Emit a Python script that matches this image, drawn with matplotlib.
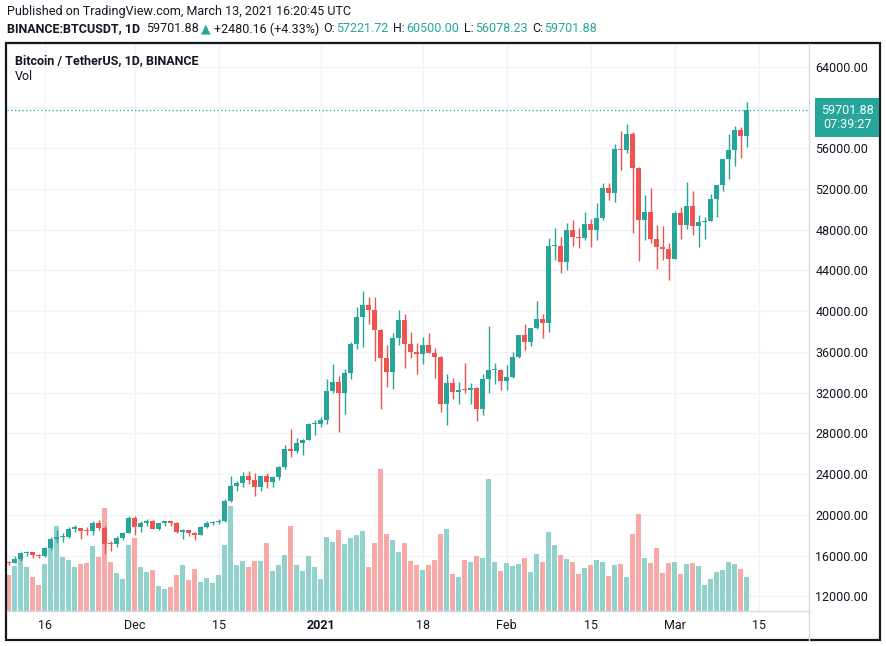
import numpy as np
import pandas as pd
import matplotlib
matplotlib.use("Agg")
import matplotlib.pyplot as plt
import matplotlib.dates as mdates
import matplotlib.transforms as mtransforms
from matplotlib.patches import Rectangle
from matplotlib.lines import Line2D

plt.rcParams['font.family'] = ['Roboto', 'DejaVu Sans']

UP = "#26a69a"
DOWN = "#ef5350"
UP_VOL = "#92d2cc"
DOWN_VOL = "#f7a9a7"
TEXT = "#131722"
GRID = "#f0f3fa"
EDGE = "#d6d9e0"

# --- data: BINANCE:BTCUSDT daily, 2020-11-10 .. 2021-03-13 ---
dates = pd.date_range("2020-11-10", "2021-03-13", freq="D")
first_open = 15332.0

closes = [
    # Nov
    15290, 15701, 16276, 16317, 16068, 15957, 16713, 17659, 17777, 17802,
    18655, 18703, 18414, 18364, 19160, 18720, 17151, 17139, 17720, 18180, 19696,
    # Dec
    18765, 19204, 19422, 18650, 19147, 19359, 19166, 18324, 18541, 18254,
    18036, 18808, 19175, 19273, 19427, 21380, 22808, 23107, 23821, 23455,
    22720, 23810, 23232, 23729, 24712, 26493, 26281, 27079, 27385, 28875, 28923,
    # Jan
    29331, 32178, 33000, 31988, 33949, 36769, 39432, 40582, 40088, 38150,
    35404, 34051, 37371, 39144, 36742, 35994, 35828, 36631, 35891, 35468,
    30850, 32950, 32079, 32260, 32254, 32467, 30366, 33364, 34252, 34262, 33092,
    # Feb
    33526, 35466, 37618, 36937, 38290, 39186, 38795, 46375, 46420, 44807,
    47969, 47288, 47153, 48577, 47911, 49133, 52119, 51553, 55906, 55841,
    57408, 54087, 48891, 49676, 47073, 46276, 46106, 45135,
    # Mar
    49587, 48440, 50349, 48374, 48751, 48882, 50971, 52376, 54884, 55851,
    57773, 57221.72, 59701.88,
]

highs = [
    15460, 15965, 16340, 16480, 16317, 16180, 16880, 17858, 18476, 18179,
    18815, 18965, 18750, 18766, 19418, 19484, 18915, 17457, 17880, 18345, 19863,
    19888, 19343, 19598, 19527, 19177, 19420, 19420, 19294, 18639, 18557,
    18292, 18948, 19411, 19349, 19570, 21560, 23800, 23285, 24171, 24295,
    24102, 23837, 24100, 23794, 24789, 26867, 28422, 27500, 27410, 28996, 29300,
    29600, 33300, 34778, 33600, 34360, 36939, 40365, 41950, 41380, 41350,
    38264, 36628, 37850, 40100, 39747, 37950, 36852, 37406, 37850, 36415,
    35600, 33826, 33456, 33071, 34875, 32921, 32557, 33783, 38531, 34933, 34288,
    34717, 35984, 37662, 38708, 38310, 40955, 39700, 47200, 48200, 47310,
    48678, 48985, 48150, 49707, 49010, 50600, 52618, 52530, 56368, 57700,
    58352, 57533, 54183, 51374, 52041, 48424, 48394, 46638,
    49790, 50200, 52640, 51773, 49448, 49200, 51450, 52402, 54895, 57387,
    58150, 58058, 60500.00,
]

lows = [
    15085, 15272, 15440, 15970, 15715, 15800, 15870, 16531, 17214, 17335,
    17740, 18308, 17610, 18000, 18019, 18535, 16188, 16438, 16886, 17517, 18180,
    18001, 18330, 18867, 18565, 18500, 18857, 18902, 18200, 17650, 17911,
    17572, 18020, 18711, 19000, 19050, 19288, 21230, 22350, 22750, 23060,
    21815, 22353, 22600, 22703, 23400, 24500, 25700, 26101, 25880, 27320, 27850,
    28624, 28946, 31962, 28130, 29900, 33288, 36300, 36500, 38720, 35111,
    30420, 32531, 32380, 36701, 34408, 35357, 33850, 34800, 35844, 33400,
    30071, 28850, 31390, 30900, 32000, 30837, 29241, 29842, 31915, 32825, 32270,
    32296, 33418, 35362, 36161, 36570, 38215, 37351, 37988, 45000, 43727,
    43994, 46400, 46202, 47015, 46250, 47003, 48947, 50901, 50672, 53863,
    55477, 47622, 44892, 47003, 46674, 44106, 45000, 43000,
    45115, 47047, 48100, 47500, 46300, 47070, 48882, 49274, 51789, 53005,
    54269, 55013, 56078.23,
]

# relative daily volume
volume = [
    36, 45, 53, 44, 34, 26, 47, 70, 85, 54, 51, 44, 47, 48, 65, 54, 103, 49, 38, 32, 66,
    73, 44, 39, 41, 25, 22, 24, 36, 46, 31, 42, 29, 33, 28, 36, 66, 105, 46, 50, 44,
    50, 50, 68, 40, 46, 56, 85, 46, 40, 55, 44,
    32, 74, 69, 81, 67, 73, 76, 80, 44, 68, 142, 77, 71, 59, 68, 50, 46, 41, 46, 51,
    77, 82, 37, 34, 51, 49, 55, 53, 132, 49, 40,
    48, 45, 47, 53, 39, 57, 49, 79, 66, 56, 52, 49, 37, 43, 46, 51, 49, 35, 46, 47,
    34, 77, 97, 53, 48, 63, 38, 48,
    49, 37, 47, 48, 45, 26, 32, 39, 41, 49, 47, 42, 34,
]

opens = [first_open] + closes[:-1]

grid_levels = list(range(12000, 64001, 4000))
price_labels = [p for p in grid_levels if p != 60000]  # hidden under price tag
time_ticks = ["2020-11-16", "2020-12-01", "2020-12-15", "2021-01-01", "2021-01-18",
              "2021-02-01", "2021-02-15", "2021-03-01", "2021-03-15"]
time_labels = ["16", "Dec", "15", "2021", "18", "Feb", "15", "Mar", "15"]

# --- figure / panes (pixel layout) ---
W, H = 886, 646
fig = plt.figure(figsize=(W / 100, H / 100), dpi=100)
L, R, T, B = 7, 809, 44, 611
ax_vol = fig.add_axes([L / W, 1 - B / H, (R - L) / W, (B - T) / H])
ax = ax_vol.twinx()
ax.set_zorder(ax_vol.get_zorder() + 1)
ax.patch.set_visible(False)

x = mdates.date2num(dates)
o = np.array(opens)
c = np.array(closes)
hi = np.array(highs)
lo = np.array(lows)
up = c >= o

ax_vol.set_xlim(x[0] - 0.28, x[0] + 133.4)
ax.set_ylim(10557, 66214)
ax_vol.set_ylim(0, max(volume) * 4.0)

# grid (behind volume)
gtrans = mtransforms.blended_transform_factory(ax_vol.transAxes, ax.transData)
for p in grid_levels:
    ax_vol.plot([0, 1], [p, p], transform=gtrans, color=GRID, lw=1, zorder=0)
tick_x = mdates.date2num(pd.to_datetime(time_ticks))
for t in tick_x:
    ax_vol.axvline(t, color=GRID, lw=1, zorder=0)

# volume
ax_vol.bar(x, volume, width=0.78, color=np.where(up, UP_VOL, DOWN_VOL), zorder=2)

# candles
cols = np.where(up, UP, DOWN)
ax.vlines(x, lo, hi, colors=cols, lw=1.0, zorder=3)
body_lo = np.minimum(o, c)
body_h = np.maximum(np.abs(c - o), 100)
ax.bar(x, body_h, bottom=body_lo, width=0.76, color=cols, zorder=4)

# last price line + tag
ax.axhline(closes[-1], color=UP, lw=0.9, ls=(0, (1, 2)), zorder=5)
tag_trans = mtransforms.blended_transform_factory(ax.transAxes, ax.transData)
ax.annotate(f"{closes[-1]:.2f}\n07:39:27", xy=(1, closes[-1]), xycoords=tag_trans,
            xytext=(27.5, 4.6), textcoords="offset points", ha="center", va="top",
            color="white", fontsize=9, linespacing=1.15, annotation_clip=False,
            bbox=dict(boxstyle="square,pad=0.45", fc=UP, ec="none"))

# axes cosmetics
for a in (ax, ax_vol):
    for s in a.spines.values():
        s.set_visible(False)
ax_vol.set_yticks([])
ax.set_yticks(price_labels)
ax.set_yticklabels([f"{p:.2f}" for p in price_labels])
ax.tick_params(axis="y", length=0, pad=4.5, labelsize=9, labelcolor=TEXT)
ax_vol.set_xticks(tick_x)
ax_vol.set_xticklabels(time_labels)
ax_vol.tick_params(axis="x", length=0, pad=6, labelsize=9, labelcolor=TEXT)
for lab in ax_vol.get_xticklabels():
    if lab.get_text() == "2021":
        lab.set_fontweight("bold")

# separators and outer frame
fig.add_artist(Line2D([R / W, R / W], [1 - 640 / H, 1 - T / H], color=EDGE, lw=1))
fig.add_artist(Line2D([L / W, R / W], [1 - B / H, 1 - B / H], color=EDGE, lw=1))
fig.add_artist(Rectangle((6 / W, 1 - 640 / H), (880 - 6) / W, (640 - 43) / H,
                         transform=fig.transFigure, fill=False, ec=TEXT, lw=1.6))

# pane legend
fig.text(15 / W, 1 - 61 / H, "Bitcoin / TetherUS, 1D, BINANCE", fontsize=9,
         color=TEXT, va="center", fontweight="bold")
fig.text(15 / W, 1 - 77 / H, "Vol", fontsize=9, color=TEXT, va="center")

# header lines
fig.text(7 / W, 1 - 12 / H, "Published on TradingView.com, March 13, 2021 16:20:45 UTC",
         fontsize=9, color=TEXT, va="center")
prev = fig.text(7 / W, 1 - 29 / H, "BINANCE:BTCUSDT, 1D", fontsize=9, color=TEXT,
                va="center", fontweight="bold")
pieces = [
    ("59701.88", TEXT, 4.5), ("▲", UP, 1.5), ("+2480.16 (+4.33%)", TEXT, 2.5),
    ("O:", TEXT, 3), ("57221.72", UP, 0.8), ("H:", TEXT, 3.5), ("60500.00", UP, 0.8),
    ("L:", TEXT, 3.5), ("56078.23", UP, 0.8), ("C:", TEXT, 3.5), ("59701.88", UP, 0.8),
]
for txt, col, gap in pieces:
    # chain each piece to the right edge of the previous one
    prev = plt.annotate(txt, xy=(1, 0.5), xycoords=prev, xytext=(gap, 0),
                        textcoords="offset points", ha="left", va="center",
                        fontsize=9, color=col)

fig.savefig("out.png", dpi=100, facecolor="white")
